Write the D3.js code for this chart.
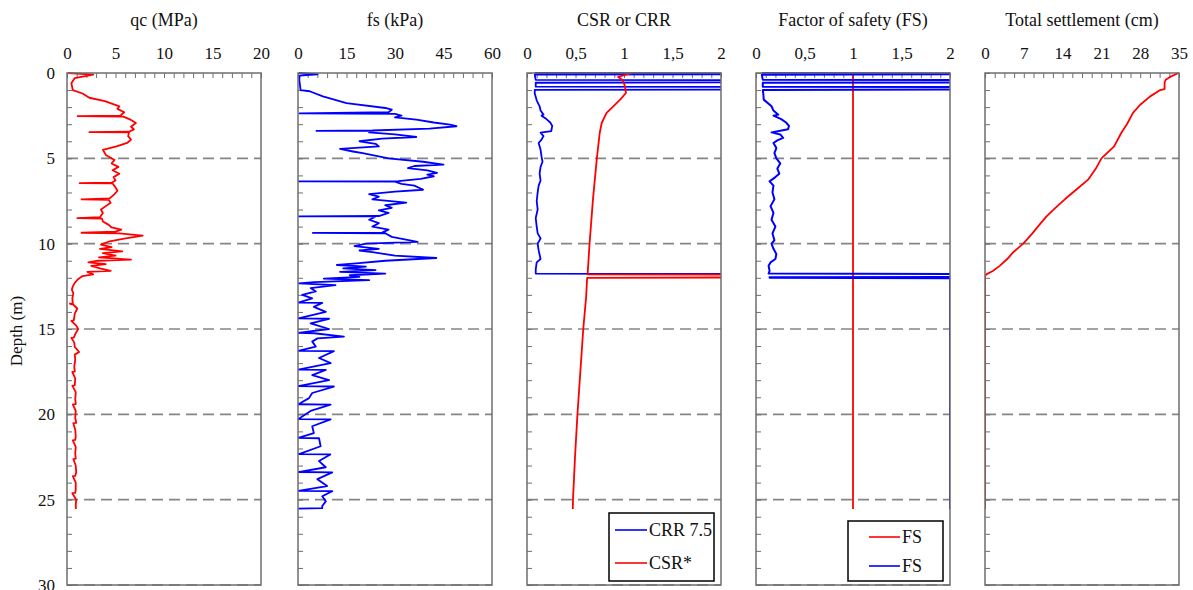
<!DOCTYPE html>
<html>
<head>
<meta charset="utf-8">
<script src="https://cdn.jsdelivr.net/npm/d3@7"></script>
<style>
  body { margin: 0; background: #fff; }
  svg text { font-family: "Liberation Serif", "Times New Roman", Times, serif; fill: #111; }
</style>
</head>
<body>
<script>
// depth (m), value pairs
const qcData = [
  [0, 0.1], [0.1, 2.7], [0.3, 0.8], [0.6, 0.45], [1.0, 0.6], [1.2, 1.6], [1.45, 2.3], [1.65, 3.9], [1.95, 5.4],
  [2.1, 5.2], [2.3, 5.9], [2.5, 5.5], [2.53, 1.1], [2.56, 5.8], [2.75, 6.6], [2.93, 7.1], [3.15, 6.6], [3.3, 6.9],
  [3.44, 6.4], [3.46, 2.3], [3.48, 6.4], [3.7, 6.3], [3.9, 6.6], [4.1, 6.2], [4.3, 5.1], [4.5, 3.7], [4.8, 4.0],
  [5.1, 4.9], [5.3, 4.6], [5.5, 5.3], [5.7, 4.7], [5.9, 5.4], [6.1, 4.8], [6.3, 5.0], [6.43, 4.6], [6.45, 1.3],
  [6.47, 4.7], [6.7, 5.0], [6.9, 5.2], [7.1, 4.9], [7.35, 4.4], [7.4, 1.5], [7.43, 4.3], [7.6, 4.5], [7.8, 4.0],
  [8.0, 3.5], [8.2, 3.7], [8.45, 3.4], [8.5, 1.06], [8.53, 3.6], [8.7, 3.7], [8.9, 4.3], [9.05, 4.6], [9.18, 5.6],
  [9.3, 5.0], [9.36, 1.5], [9.4, 5.4], [9.53, 7.8], [9.7, 5.9], [9.86, 4.4], [10.06, 3.5], [10.2, 4.6], [10.3, 3.4],
  [10.45, 5.7], [10.55, 3.7], [10.7, 5.0], [10.8, 3.3], [10.94, 6.6], [11.0, 3.2], [11.1, 2.2], [11.2, 4.0],
  [11.3, 2.5], [11.45, 3.4], [11.6, 4.5], [11.65, 2.1], [11.8, 2.7], [11.9, 1.6], [12.1, 1.1], [12.3, 0.8],
  [12.5, 0.6], [12.7, 0.5], [12.9, 0.65], [13.2, 0.55], [13.5, 0.6], [13.52, 0.3], [13.55, 0.6], [13.8, 1.06],
  [14.1, 0.8], [14.5, 0.7], [14.52, 0.45], [14.8, 0.95], [15.0, 1.15], [15.3, 0.85], [15.5, 0.7], [15.52, 0.45],
  [15.8, 0.75], [16.05, 0.8], [16.35, 1.25], [16.5, 0.8], [16.8, 0.85], [17.2, 0.75], [17.5, 0.8], [17.52, 0.55],
  [17.9, 0.85], [18.3, 0.8], [18.32, 0.55], [18.7, 0.9], [19.1, 0.85], [19.4, 0.9], [19.42, 0.6], [19.8, 0.9],
  [20.2, 0.85], [20.5, 0.95], [20.52, 0.65], [20.9, 0.85], [21.3, 0.9], [21.5, 0.85], [21.52, 0.6], [21.9, 0.9],
  [22.3, 0.85], [22.6, 0.9], [22.62, 0.65], [23.0, 0.9], [23.4, 0.95], [23.6, 0.85], [23.62, 0.6], [24.0, 0.9],
  [24.4, 0.9], [24.6, 0.85], [24.62, 0.55], [25.0, 0.95], [25.3, 0.9], [25.55, 0.92]
];

const fsData = [
  [0, 0.3], [0.08, 6], [0.15, 0.5], [0.4, 0.4], [0.7, 0.6], [1.0, 0.8], [1.07, 3.6], [1.37, 7.7], [1.76, 15],
  [2.05, 27], [2.15, 29], [2.3, 28], [2.37, 0.5], [2.4, 30], [2.5, 32], [2.6, 30], [2.73, 36.6], [2.9, 42],
  [3.03, 47], [3.12, 49], [3.26, 40.7], [3.37, 23], [3.39, 5.7], [3.41, 22], [3.48, 22], [3.6, 30], [3.75, 36.6],
  [3.85, 26], [4.0, 19], [4.15, 24], [4.3, 25], [4.45, 13], [4.6, 17], [4.7, 20], [5.0, 28], [5.2, 38.7],
  [5.37, 45], [5.45, 36], [5.57, 34], [5.7, 40], [5.85, 43], [5.95, 40], [6.05, 42], [6.2, 38], [6.33, 31],
  [6.35, 0.2], [6.37, 30], [6.5, 32], [6.6, 36], [6.84, 38.7], [6.95, 30], [7.1, 22], [7.25, 25], [7.4, 23],
  [7.6, 33.5], [7.75, 27], [7.9, 29], [8.05, 25], [8.2, 28], [8.38, 25], [8.4, 0.3], [8.42, 24], [8.6, 22],
  [8.8, 25], [9.0, 23], [9.18, 28], [9.35, 26], [9.37, 4.6], [9.39, 27], [9.6, 29], [9.75, 33], [9.9, 37],
  [10.0, 21], [10.15, 17.5], [10.3, 25], [10.4, 19], [10.5, 23], [10.7, 30], [10.84, 42.8], [11.0, 27],
  [11.15, 18], [11.25, 12], [11.35, 21], [11.45, 14], [11.55, 24], [11.65, 13], [11.75, 27], [11.85, 16],
  [11.95, 19], [12.05, 8], [12.14, 22], [12.25, 5], [12.33, 0.3], [12.43, 11.6], [12.6, 3.9], [12.8, 5.5],
  [13.0, 1.3], [13.2, 4.4], [13.45, 0.1], [13.47, 7.5], [13.7, 4.9], [14.0, 8.6], [14.38, 0.1], [14.4, 9.6],
  [14.67, 3.9], [15.0, 9.6], [15.23, 0.1], [15.25, 5], [15.45, 14.2], [15.55, 6], [15.74, 4.4], [16.03, 5.5],
  [16.28, 0.1], [16.3, 11.1], [16.7, 6.5], [17.0, 10.1], [17.38, 0.1], [17.4, 8.6], [17.7, 4.4], [18.0, 9.6],
  [18.35, 0.1], [18.37, 11.1], [18.75, 4.4], [19.05, 3.4], [19.41, 0.1], [19.43, 10.1], [19.8, 3.9],
  [20.28, 0.1], [20.3, 10.1], [20.7, 4.4], [21.1, 4.9], [21.38, 0.1], [21.4, 6.5], [21.87, 7], [22.33, 0.3],
  [22.35, 10], [22.74, 6.5], [23.1, 8.6], [23.38, 0.1], [23.4, 10.6], [23.8, 6], [24.2, 9], [24.48, 0.1],
  [24.5, 10.6], [24.8, 7.5], [25.1, 8.6], [25.37, 7.5], [25.5, 7.5], [25.52, 0.1]
];

// CRR 7.5 and CSR*; values above 2 run off the panel
const crrData = [
  [0, 0.08], [0.03, 2.3], [0.07, 2.3], [0.1, 0.08], [0.4, 0.09], [0.42, 2.3], [0.55, 2.3], [0.57, 0.09],
  [0.8, 0.09], [0.82, 2.3], [0.97, 2.3], [0.99, 0.08], [1.2, 0.08], [1.6, 0.1], [1.95, 0.13], [2.2, 0.14],
  [2.44, 0.17], [2.5, 0.15], [2.7, 0.2], [2.9, 0.24], [3.1, 0.26], [3.4, 0.25], [3.5, 0.14], [3.7, 0.17],
  [3.9, 0.15], [4.1, 0.12], [4.5, 0.14], [4.9, 0.15], [5.2, 0.16], [5.5, 0.14], [5.9, 0.13], [6.3, 0.14],
  [6.6, 0.12], [7.0, 0.11], [7.5, 0.1], [8.0, 0.11], [8.5, 0.09], [9.0, 0.1], [9.4, 0.11], [9.7, 0.14],
  [10.0, 0.11], [10.4, 0.12], [10.9, 0.14], [11.1, 0.1], [11.5, 0.09], [11.75, 0.09], [11.78, 2.3]
];

const csrData = [
  [0, 1.08], [0.23, 0.94], [0.4, 0.98], [0.6, 1.0], [0.8, 1.01], [1.17, 1.02], [1.56, 0.96], [1.95, 0.89],
  [2.34, 0.82], [2.93, 0.77], [3.5, 0.75], [5.0, 0.72], [7.4, 0.68], [10.0, 0.645], [11.8, 0.625],
  [11.82, 2.3], [11.98, 2.3], [12.0, 0.62], [13.1, 0.61], [15.0, 0.58], [17.5, 0.55], [20.0, 0.52],
  [22.5, 0.495], [25.0, 0.474], [25.55, 0.472]
];

// factor of safety, capped at 2
const fsLimitData = [[0, 1], [25.55, 1]];
const fosData = [
  [0, 0.06], [0.03, 2.3], [0.07, 2.3], [0.1, 0.06], [0.4, 0.07], [0.42, 2.3], [0.55, 2.3], [0.57, 0.07],
  [0.8, 0.07], [0.82, 2.3], [0.97, 2.3], [0.99, 0.07], [1.2, 0.075], [1.56, 0.08], [1.95, 0.16], [2.2, 0.18],
  [2.44, 0.23], [2.5, 0.18], [2.7, 0.26], [2.9, 0.31], [3.1, 0.34], [3.3, 0.33], [3.48, 0.16], [3.6, 0.25],
  [3.8, 0.28], [3.95, 0.22], [4.1, 0.18], [4.4, 0.21], [4.7, 0.19], [5.0, 0.21], [5.3, 0.25], [5.6, 0.22],
  [5.9, 0.24], [6.1, 0.2], [6.35, 0.14], [6.6, 0.18], [7.0, 0.17], [7.4, 0.19], [7.8, 0.15], [8.2, 0.18],
  [8.6, 0.16], [9.0, 0.2], [9.4, 0.17], [9.8, 0.19], [10.0, 0.16], [10.3, 0.18], [10.6, 0.21], [10.9, 0.2],
  [11.1, 0.15], [11.3, 0.13], [11.6, 0.14], [11.75, 0.13], [11.78, 2.3], [11.95, 2.3], [11.97, 0.14],
  [12.0, 0.14], [12.02, 2], [25.55, 2]
];

const settleData = [
  [0, 34.9], [0.23, 33.4], [0.4, 32.6], [0.55, 32.4], [0.94, 32.4], [1.0, 31.6], [1.37, 29.8], [1.86, 28],
  [2.34, 26.7], [3.0, 25.6], [3.5, 24.6], [4.3, 23.3], [5.0, 21], [5.6, 20], [6.25, 18.6], [6.8, 16.6],
  [7.4, 14.4], [7.9, 12.7], [8.4, 11.1], [8.9, 9.8], [9.4, 8.55], [10.0, 6.9], [10.5, 5.1], [10.9, 4.0],
  [11.3, 2.65], [11.6, 1.4], [11.8, 0.24], [11.9, 0], [25.55, 0]
];

const titles = ["qc (MPa)", "fs (kPa)", "CSR or CRR", "Factor of safety (FS)", "Total settlement (cm)"];
const xMaxes = [20, 60, 2, 2, 35];
const xLabels = [
  [0, 5, 10, 15, 20],
  [0, 15, 30, 45, 60],
  [0, 0.5, 1, 1.5, 2],
  [0, 0.5, 1, 1.5, 2],
  [0, 7, 14, 21, 28, 35]
];
const xMinorSteps = [1, 3, 0.1, 0.1, 1.75];
const depthLabels = [0, 5, 10, 15, 20, 25, 30];
const gridDepths = [5, 10, 15, 20, 25, 30];

const width = 1193, height = 590;
const panelLefts = [67, 298, 527, 756, 985];
const panelW = 194, plotTop = 73, plotBottom = 585;
const frameColor = "#6e6e6e";

const svg = d3.select("body").append("svg")
  .attr("width", width)
  .attr("height", height)
  .style("display", "block");

const y = d3.scaleLinear().domain([0, 30]).range([plotTop, plotBottom]);
const commaFmt = d => String(d).replace(".", ",");

const panels = panelLefts.map((left, i) => {
  const x = d3.scaleLinear().domain([0, xMaxes[i]]).range([left, left + panelW]);
  const g = svg.append("g").attr("class", "panel");

  g.append("clipPath").attr("id", `clip${i}`)
    .append("rect")
    .attr("x", left).attr("y", plotTop - 1)
    .attr("width", panelW).attr("height", plotBottom - plotTop + 2);

  // dashed depth gridlines
  g.selectAll("line.grid").data(gridDepths).enter().append("line")
    .attr("class", "grid")
    .attr("x1", left).attr("x2", left + panelW)
    .attr("y1", d => y(d)).attr("y2", d => y(d))
    .attr("stroke", "#858585")
    .attr("stroke-width", 1.6)
    .attr("stroke-dasharray", "11,6");

  // inward minor ticks
  const minor = d3.range(0, xMaxes[i] + 1e-6, xMinorSteps[i]);
  g.append("g")
    .attr("transform", `translate(0,${plotTop})`)
    .call(d3.axisBottom(x).tickValues(minor).tickSize(5).tickFormat(""))
    .call(a => a.select(".domain").remove())
    .selectAll("line").attr("stroke", frameColor);
  g.append("g")
    .attr("transform", `translate(${left},0)`)
    .call(d3.axisRight(y).tickValues(d3.range(0, 31, 1)).tickSize(5).tickFormat(""))
    .call(a => a.select(".domain").remove())
    .selectAll("line").attr("stroke", frameColor);

  // top labels
  const fmt = (i === 2 || i === 3) ? commaFmt : d3.format("d");
  g.append("g")
    .attr("transform", `translate(0,${plotTop})`)
    .call(d3.axisTop(x).tickValues(xLabels[i]).tickSize(0).tickPadding(14).tickFormat(fmt))
    .call(a => a.select(".domain").remove())
    .selectAll("text")
    .attr("font-size", 17);

  g.append("text")
    .attr("x", left + panelW / 2)
    .attr("y", 26)
    .attr("text-anchor", "middle")
    .attr("font-size", 18)
    .text(titles[i]);

  const plot = g.append("g").attr("clip-path", `url(#clip${i})`);
  return {x, g, plot, left};
});

// depth axis labels on the first panel only
svg.append("g")
  .attr("transform", `translate(${panelLefts[0]},0)`)
  .call(d3.axisLeft(y).tickValues(depthLabels).tickSize(0).tickPadding(12))
  .call(a => a.select(".domain").remove())
  .selectAll("text")
  .attr("font-size", 17);

svg.append("text")
  .attr("transform", `translate(22,${(plotTop + plotBottom) / 2 + 2}) rotate(-90)`)
  .attr("text-anchor", "middle")
  .attr("font-size", 17)
  .text("Depth (m)");

function drawLine(p, data, color, w = 1.8){
  const line = d3.line().x(d => p.x(d[1])).y(d => y(d[0]));
  p.plot.append("path")
    .datum(data)
    .attr("d", line)
    .attr("fill", "none")
    .attr("stroke", color)
    .attr("stroke-width", w)
    .attr("stroke-linejoin", "round");
}

drawLine(panels[0], qcData, "#ff0000");
drawLine(panels[1], fsData, "#0000ff");
drawLine(panels[2], crrData, "#0000ff");
drawLine(panels[2], csrData, "#ff0000");
drawLine(panels[3], fsLimitData, "#ff0000");
drawLine(panels[3], fosData, "#0000ff", 2);
drawLine(panels[4], settleData, "#ff0000");

// frames on top
panels.forEach(p => {
  p.g.append("rect")
    .attr("x", p.left).attr("y", plotTop)
    .attr("width", panelW).attr("height", plotBottom - plotTop)
    .attr("fill", "none")
    .attr("stroke", frameColor)
    .attr("stroke-width", 1.5);
});

function legend(box, items){
  const lg = svg.append("g");
  lg.append("rect")
    .attr("x", box.x).attr("y", box.y)
    .attr("width", box.w).attr("height", box.h)
    .attr("fill", "#fff")
    .attr("stroke", "#000")
    .attr("stroke-width", 1.5);
  const row = lg.selectAll("g.item").data(items).enter().append("g")
    .attr("class", "item")
    .attr("transform", (d, i) => `translate(0,${box.y + box.first + i * box.gap})`);
  row.append("line")
    .attr("x1", box.lx).attr("x2", box.lx + box.lw)
    .attr("stroke", d => d.color)
    .attr("stroke-width", 1.6);
  row.append("text")
    .attr("x", box.lx + box.lw + 2)
    .attr("dy", "0.35em")
    .attr("font-size", 18)
    .text(d => d.name);
}

legend({x: 609, y: 513, w: 105, h: 68, first: 17, gap: 33, lx: 615, lw: 32},
  [{name: "CRR 7.5", color: "#0000ff"}, {name: "CSR*", color: "#ff0000"}]);
legend({x: 848, y: 521, w: 95, h: 60, first: 16, gap: 29, lx: 869, lw: 31},
  [{name: "FS", color: "#ff0000"}, {name: "FS", color: "#0000ff"}]);
</script>
</body>
</html>
